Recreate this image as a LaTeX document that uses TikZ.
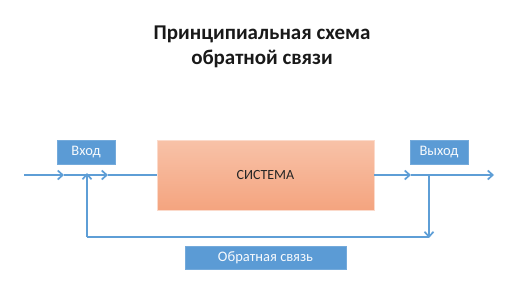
\documentclass[tikz,border=0pt]{standalone}
\usepackage{fontspec}
\setmainfont{Carlito}
\usetikzlibrary{arrows.meta}
\definecolor{blu}{HTML}{5B9BD5}
\definecolor{lineblu}{HTML}{5E9ED6}
\definecolor{saltop}{HTML}{F8C2A8}
\definecolor{salbot}{HTML}{F4A47F}
\tikzset{
  bluebox/.style={fill=blu, draw=blu!85!white, text=white!95!blu, font=\fontsize{14.5}{16}\selectfont, inner sep=0pt},
  conn/.style={draw=lineblu, line width=1.7pt},
  tip/.style={-{Straight Barb[length=5pt,width=9pt,line width=1.7pt]}},
}
\begin{document}
\begin{tikzpicture}[x=1pt,y=-1pt]
\useasboundingbox (0,0) rectangle (516,290);
% title
\node[font=\bfseries\fontsize{21}{25}\selectfont, align=center, text=black!90] (title) at (262,47) {Принципиальная схема\\обратной связи};
% boxes
\node[bluebox, minimum width=58pt, minimum height=24pt] (vhod) at (86,152) {Вход};
\node[bluebox, minimum width=58pt, minimum height=24pt] (vyhod) at (439,152) {Выход};
\node[bluebox, minimum width=161pt, minimum height=23pt] (obr) at (265.5,257.5) {Обратная связь};
\node[draw=saltop!60!white, line width=0.6pt, top color=saltop, bottom color=salbot, minimum width=217pt, minimum height=70pt, inner sep=0pt, font=\fontsize{14}{16}\selectfont, text=black!85] (sys) at (265.5,175) {СИСТЕМА};
% coordinates
\coordinate (in) at (24,175);
\coordinate (a1) at (64,175);
\coordinate (j1) at (87,175);
\coordinate (a2) at (108,175);
\coordinate (a3) at (411,175);
\coordinate (j2) at (429,175);
\coordinate (out) at (494,175);
\coordinate (b2) at (429,237);
\coordinate (b1) at (87,237);
% connectors
\draw[conn,tip] (in) -- (a1);
\draw[conn] (a1) -- (j1);
\draw[conn,tip] (j1) -- (a2);
\draw[conn] (a2) -- (sys.west);
\draw[conn,tip] (sys.east) -- (a3);
\draw[conn] (a3) -- (j2);
\draw[conn,tip] (j2) -- (out);
\draw[conn,tip] (j2) -- ([yshift=-1pt]b2);
\draw[conn] (b2) -- (b1);
\draw[conn,tip] (b1) -- ([yshift=2pt]j1);
\end{tikzpicture}
\end{document}
